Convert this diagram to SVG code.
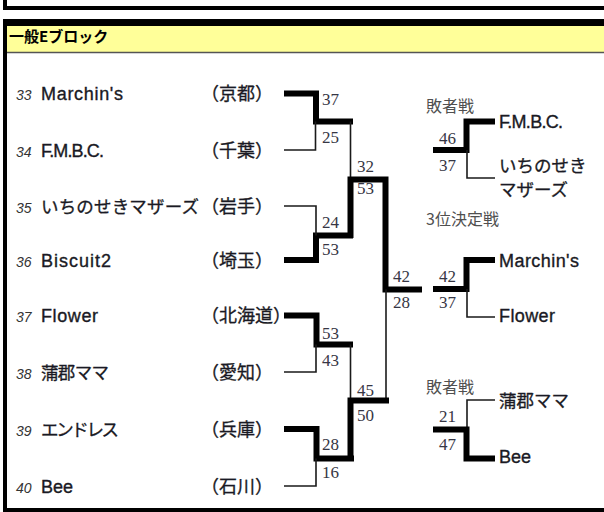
<svg xmlns="http://www.w3.org/2000/svg" width="604" height="512" viewBox="0 0 604 512">
<style>
.seed{font-family:"Liberation Sans","Noto Sans CJK JP",sans-serif;font-style:italic;font-size:14px;fill:#333}
.name{font-family:"Liberation Sans","Noto Sans CJK JP",sans-serif;font-size:18px;fill:#1a1a24;stroke:#1a1a24;stroke-width:0.35}
.jp{font-family:"Noto Sans CJK JP",sans-serif;font-size:17.5px;fill:#1a1a24;stroke:#1a1a24;stroke-width:0.3}
.pref{font-family:"Noto Sans CJK JP",sans-serif;font-size:18px;fill:#1a1a24;stroke:#1a1a24;stroke-width:0.3}
.score{font-family:"Liberation Serif",serif;font-size:17px;fill:#363644}
.cap{font-family:"Noto Sans CJK JP",sans-serif;font-size:16px;fill:#505050}
.thick{fill:none;stroke:#000;stroke-width:6;stroke-linejoin:miter;stroke-linecap:butt}
.thin{fill:none;stroke:#1a1a1a;stroke-width:1.6}
</style>
<rect width="604" height="512" fill="#fff"/>
<g id="frame">
<rect x="3" y="0" width="4" height="10" fill="#000"/>
<rect x="3" y="6" width="601" height="4" fill="#000"/>
<rect x="3" y="19" width="601" height="7" fill="#000"/>
<rect x="7" y="26" width="597" height="26" fill="#FFFF99"/>
<line x1="7" y1="52.5" x2="604" y2="52.5" stroke="#555" stroke-width="1.5"/>
<rect x="3" y="19" width="4" height="493" fill="#000"/>
<rect x="3" y="508" width="601" height="4" fill="#000"/>
<text x="9" y="42" font-family="'Noto Sans CJK JP',sans-serif" font-size="15" font-weight="bold" fill="#000">一般Eブロック</text>
</g>
<g id="team33"><text class="seed" x="16" y="100">33</text><text class="name" x="41" y="100" textLength="82">Marchin's</text><text class="pref" x="201" y="100">（京都）</text></g>
<g id="team34"><text class="seed" x="16" y="156.5">34</text><text class="name" x="41" y="156.5" textLength="63">F.M.B.C.</text><text class="pref" x="201" y="156.5">（千葉）</text></g>
<g id="team35"><text class="seed" x="16" y="212.5">35</text><text class="jp" x="41" y="212.5" textLength="158">いちのせきマザーズ</text><text class="pref" x="201" y="212.5">（岩手）</text></g>
<g id="team36"><text class="seed" x="16" y="266.5">36</text><text class="name" x="41" y="266.5" textLength="70">Biscuit2</text><text class="pref" x="201" y="266.5">（埼玉）</text></g>
<g id="team37"><text class="seed" x="16" y="322">37</text><text class="name" x="41" y="322" textLength="57">Flower</text><text class="pref" x="201" y="322">（北海道）</text></g>
<g id="team38"><text class="seed" x="16" y="378.5">38</text><text class="jp" x="41" y="378.5" textLength="68">蒲郡ママ</text><text class="pref" x="201" y="378.5">（愛知）</text></g>
<g id="team39"><text class="seed" x="16" y="435.5">39</text><text class="jp" x="41" y="435.5" textLength="78">エンドレス</text><text class="pref" x="201" y="435.5">（兵庫）</text></g>
<g id="team40"><text class="seed" x="16" y="492.5">40</text><text class="name" x="41" y="492.5" font-size="19">Bee</text><text class="pref" x="201" y="492.5">（石川）</text></g>
<g id="connectors">
<path class="thick" d="M284,93.5 H316 V121.5 H353"/>
<path class="thin" d="M284,150 H315.5 V121.5"/>
<path class="thin" d="M350.5,121.5 V179.5"/>
<path class="thick" d="M284,260 H316 V235.5 H353"/>
<path class="thin" d="M284,206 H316 V235.5"/>
<path class="thick" d="M350.5,238 V179.5 H385.5 V289.5 H422"/>
<path class="thin" d="M386,289.5 V400.5"/>
<path class="thick" d="M284,315.5 H316.5 V344.5 H353"/>
<path class="thin" d="M284,372 H316 V344.5"/>
<path class="thin" d="M350.5,344.5 V400.5"/>
<path class="thick" d="M284,429 H316.5 V458.5 H354"/>
<path class="thin" d="M284,486 H316 V458.5"/>
<path class="thick" d="M389,400.5 H350.5 V461"/>
<path class="thick" d="M495,121.5 H466.5 V150 H433"/>
<path class="thin" d="M467,150 V178 H495"/>
<path class="thick" d="M495,260 H466.5 V289 H433"/>
<path class="thin" d="M467,289 V317 H495"/>
<path class="thin" d="M495,400 H467 V429.5"/>
<path class="thick" d="M433,429.5 H466.5 V458.5 H495"/>
</g>
<g id="scores">
<text class="score" x="322" y="105">37</text>
<text class="score" x="322" y="143">25</text>
<text class="score" x="322" y="228">24</text>
<text class="score" x="322" y="255">53</text>
<text class="score" x="322" y="339">53</text>
<text class="score" x="322" y="366">43</text>
<text class="score" x="322" y="450">28</text>
<text class="score" x="322" y="478">16</text>
<text class="score" x="357" y="172">32</text>
<text class="score" x="357" y="194">53</text>
<text class="score" x="357" y="396">45</text>
<text class="score" x="357" y="421">50</text>
<text class="score" x="393" y="282">42</text>
<text class="score" x="393" y="308">28</text>
<text class="score" x="439" y="144">46</text>
<text class="score" x="439" y="171">37</text>
<text class="score" x="439" y="282">42</text>
<text class="score" x="439" y="308">37</text>
<text class="score" x="439" y="422">21</text>
<text class="score" x="439" y="450">47</text>
</g>
<g id="loser1"><text class="cap" x="426" y="112">敗者戦</text><text class="name" x="499" y="128" textLength="64">F.M.B.C.</text><text class="jp" x="499" y="172" font-size="16.5">いちのせき</text><text class="jp" x="499" y="196" font-size="16.5">マザーズ</text></g>
<g id="third"><text class="cap" x="426" y="225">3位決定戦</text><text class="name" x="499" y="267" textLength="80">Marchin's</text><text class="name" x="499" y="322" textLength="56">Flower</text></g>
<g id="loser2"><text class="cap" x="426" y="393">敗者戦</text><text class="jp" x="499" y="407">蒲郡ママ</text><text class="name" x="499" y="463" font-size="19">Bee</text></g>
</svg>
